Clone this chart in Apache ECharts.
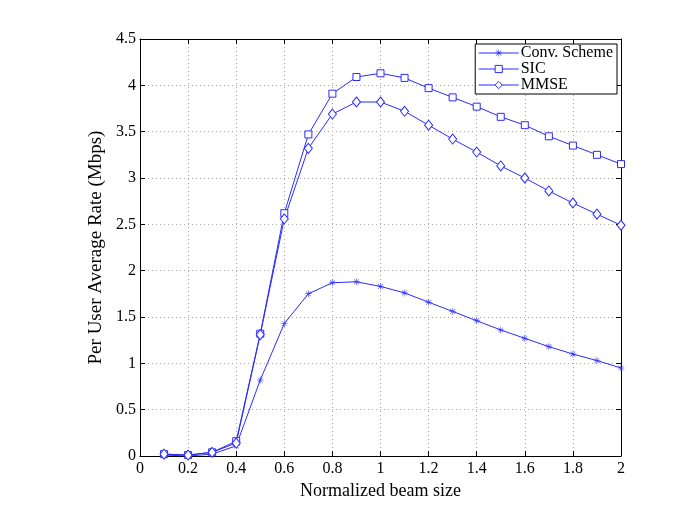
<!DOCTYPE html>
<html>
<head>
<meta charset="utf-8">
<script src="https://cdn.jsdelivr.net/npm/echarts@6/dist/echarts.min.js"></script>
<style>
  html, body { margin: 0; padding: 0; background: #fff; }
  #chart { width: 685px; height: 513px; }
</style>
</head>
<body>
<div id="chart"></div>
<script>
// beam sizes
const beamSize = [0.1, 0.2, 0.3, 0.4, 0.5, 0.6, 0.7, 0.8, 0.9, 1.0, 1.1, 1.2, 1.3, 1.4, 1.5, 1.6, 1.7, 1.8, 1.9, 2.0]

// per user average rate (Mbps)
const convRate = [0.01, 0.0, 0.02, 0.11, 0.82, 1.43, 1.75, 1.87, 1.88, 1.83, 1.76, 1.66, 1.56, 1.46, 1.36, 1.27, 1.18, 1.10, 1.03, 0.95]
const sicRate = [0.02, 0.01, 0.04, 0.16, 1.32, 2.62, 3.47, 3.91, 4.09, 4.13, 4.08, 3.97, 3.87, 3.77, 3.66, 3.57, 3.45, 3.35, 3.25, 3.15]
const mmseRate = [0.02, 0.01, 0.04, 0.14, 1.31, 2.56, 3.32, 3.69, 3.82, 3.82, 3.72, 3.57, 3.42, 3.28, 3.13, 3.00, 2.86, 2.73, 2.61, 2.49]

const seriesNames = ['Conv. Scheme', 'SIC', 'MMSE']

const blue = '#2b2bff'
const font = 'Liberation Serif'

// asterisk marker (+ and x overlaid)
const star = 'path://M9.3,0h1.4v20h-1.4z M0,9.3h20v1.4h-20z M2.6,3.6l1,-1l13.8,13.8l-1,1z M16.4,2.6l1,1l-13.8,13.8l-1,-1z'

const pairs = ys => beamSize.map((x, i) => [x, ys[i]])

const chart = echarts.init(document.getElementById('chart'))

const axisCommon = {
  type: 'value',
  axisLine: { show: true, onZero: false, lineStyle: { color: '#000', width: 1 } },
  axisTick: { inside: true, length: 5, lineStyle: { color: '#000' } },
  splitLine: { show: false }
}

const gridLine = { show: true, lineStyle: { color: '#aaa', type: [1, 3] } }

chart.setOption({
  animation: false,
  textStyle: { fontFamily: font },
  grid: { left: 140, right: 64, top: 39, bottom: 57 },
  legend: {
    data: seriesNames,
    orient: 'vertical',
    right: 68,
    top: 44,
    itemWidth: 40,
    itemHeight: 9,
    itemGap: 0,
    padding: [1, 4, 1, 3],
    borderColor: '#000',
    borderWidth: 1,
    backgroundColor: '#fff',
    lineStyle: { width: 1 },
    itemStyle: { borderWidth: 1 },
    textStyle: { fontFamily: font, fontSize: 16, lineHeight: 13.5, color: '#000', padding: [0, 0, 0, -3] }
  },
  xAxis: [
    Object.assign({}, axisCommon, {
      min: 0, max: 2, interval: 0.2,
      name: 'Normalized beam size',
      nameLocation: 'middle',
      nameGap: 20,
      nameTextStyle: { fontFamily: font, fontSize: 18, color: '#000' },
      axisLabel: { fontFamily: font, fontSize: 16, color: '#000', margin: 5 },
      splitLine: gridLine
    }),
    Object.assign({}, axisCommon, {
      position: 'top', min: 0, max: 2, interval: 0.2,
      axisLabel: { show: false }
    })
  ],
  yAxis: [
    Object.assign({}, axisCommon, {
      min: 0, max: 4.5, interval: 0.5,
      name: 'Per User Average Rate (Mbps)',
      nameLocation: 'middle',
      nameGap: 25,
      nameTextStyle: { fontFamily: font, fontSize: 19, color: '#000' },
      axisLabel: { fontFamily: font, fontSize: 16, color: '#000', margin: 4 },
      splitLine: gridLine
    }),
    Object.assign({}, axisCommon, {
      position: 'right', min: 0, max: 4.5, interval: 0.5,
      axisLabel: { show: false }
    })
  ],
  series: [
    {
      name: seriesNames[0], type: 'line', data: pairs(convRate),
      symbol: star, symbolSize: 7,
      lineStyle: { color: blue, width: 1 },
      itemStyle: { color: blue }
    },
    {
      name: seriesNames[1], type: 'line', data: pairs(sicRate),
      symbol: 'rect', symbolSize: 7,
      lineStyle: { color: blue, width: 1 },
      itemStyle: { color: '#fff', borderColor: blue, borderWidth: 1 }
    },
    {
      name: seriesNames[2], type: 'line', data: pairs(mmseRate),
      symbol: 'diamond', symbolSize: [8, 10],
      lineStyle: { color: blue, width: 1 },
      itemStyle: { color: '#fff', borderColor: blue, borderWidth: 1 }
    }
  ]
})
</script>
</body>
</html>
